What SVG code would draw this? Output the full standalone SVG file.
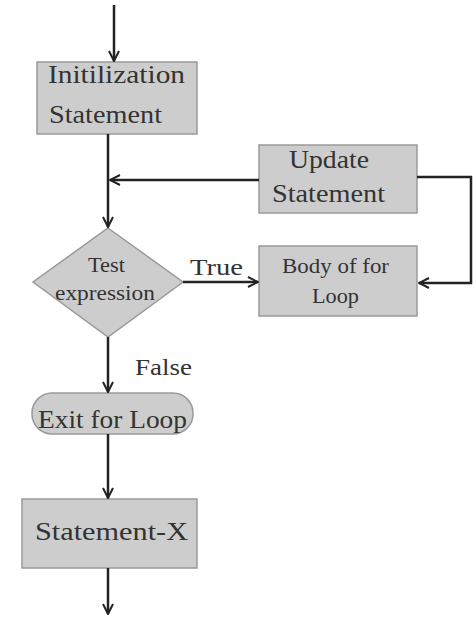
<svg xmlns="http://www.w3.org/2000/svg" width="474" height="618" viewBox="0 0 474 618">
<defs>
<marker id="arr" viewBox="0 0 12 12" refX="11" refY="6" markerWidth="12" markerHeight="12" markerUnits="userSpaceOnUse" orient="auto">
<polyline points="1,1 11,6 1,11" fill="none" stroke="#222" stroke-width="2"/>
</marker>
</defs>
<style>
.box{fill:#cdcdcd;stroke:#9a9a9a;stroke-width:1.5}
.t{font-family:"Liberation Serif",serif;fill:#333}
.e{stroke:#222;stroke-width:2.5;fill:none}
</style>
<rect width="474" height="618" fill="#fff"/>
<g id="init">
<rect class="box" x="37" y="62" width="160" height="72"/>
<text class="t" x="48" y="83" font-size="25" textLength="137" lengthAdjust="spacingAndGlyphs">Initilization</text>
<text class="t" x="49" y="123" font-size="25" textLength="113" lengthAdjust="spacingAndGlyphs">Statement</text>
</g>
<g id="update">
<rect class="box" x="259" y="145" width="158" height="68"/>
<text class="t" x="289" y="168" font-size="25" textLength="80" lengthAdjust="spacingAndGlyphs">Update</text>
<text class="t" x="272" y="202" font-size="25" textLength="113" lengthAdjust="spacingAndGlyphs">Statement</text>
</g>
<g id="test">
<polygon class="box" points="108,228 183,282 108,337 33,282"/>
<text class="t" x="88" y="272" font-size="20" textLength="37" lengthAdjust="spacingAndGlyphs">Test</text>
<text class="t" x="55" y="300" font-size="20" textLength="100" lengthAdjust="spacingAndGlyphs">expression</text>
</g>
<g id="body">
<rect class="box" x="259" y="246" width="158" height="70"/>
<text class="t" x="282" y="273" font-size="20" textLength="107" lengthAdjust="spacingAndGlyphs">Body of for</text>
<text class="t" x="312" y="303" font-size="20" textLength="47" lengthAdjust="spacingAndGlyphs">Loop</text>
</g>
<g id="exit">
<rect class="box" x="32" y="393" width="161" height="41" rx="20" ry="20"/>
<text class="t" x="38" y="428" font-size="25" textLength="149" lengthAdjust="spacingAndGlyphs">Exit for Loop</text>
</g>
<g id="stmtx">
<rect class="box" x="22" y="499" width="175" height="69"/>
<text class="t" x="35" y="540" font-size="25" textLength="153" lengthAdjust="spacingAndGlyphs">Statement-X</text>
</g>
<g id="connectors">
<line class="e" x1="114" y1="5" x2="114" y2="61" marker-end="url(#arr)"/>
<line class="e" x1="108" y1="134" x2="108" y2="227" marker-end="url(#arr)"/>
<line class="e" x1="259" y1="180" x2="110" y2="180" marker-end="url(#arr)"/>
<polyline class="e" points="417,177 471,177 471,283 419,283" marker-end="url(#arr)"/>
<line class="e" x1="183" y1="282" x2="258" y2="282" marker-end="url(#arr)"/>
<line class="e" x1="108" y1="337" x2="108" y2="392" marker-end="url(#arr)"/>
<line class="e" x1="108" y1="434" x2="108" y2="498" marker-end="url(#arr)"/>
<line class="e" x1="108" y1="568" x2="108" y2="614" marker-end="url(#arr)"/>
<text class="t" x="190" y="275" font-size="24" textLength="53" lengthAdjust="spacingAndGlyphs">True</text>
<text class="t" x="135" y="375" font-size="24" textLength="57" lengthAdjust="spacingAndGlyphs">False</text>
</g>
</svg>
